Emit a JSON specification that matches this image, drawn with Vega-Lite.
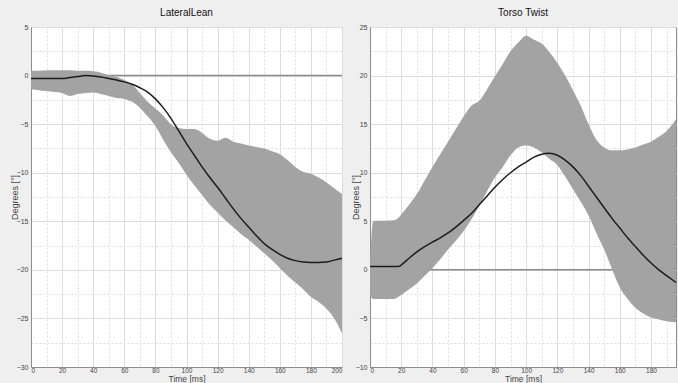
{
  "$schema": "https://vega.github.io/schema/vega-lite/v6.json",
  "padding": {"left": 9, "top": 7, "right": 0, "bottom": 0},
  "spacing": 4,
  "datasets": {
    "lean": [
      {"t": 0, "mean": -0.3, "lo": -1.4, "hi": 0.5},
      {"t": 5, "mean": -0.3, "lo": -1.5, "hi": 0.5},
      {"t": 10, "mean": -0.3, "lo": -1.6, "hi": 0.55},
      {"t": 15, "mean": -0.3, "lo": -1.7, "hi": 0.55},
      {"t": 20, "mean": -0.3, "lo": -1.8, "hi": 0.55},
      {"t": 25, "mean": -0.2, "lo": -2.1, "hi": 0.55},
      {"t": 30, "mean": -0.1, "lo": -1.9, "hi": 0.5},
      {"t": 35, "mean": 0.0, "lo": -1.8, "hi": 0.5},
      {"t": 40, "mean": -0.05, "lo": -1.75, "hi": 0.45},
      {"t": 45, "mean": -0.15, "lo": -1.9, "hi": 0.3},
      {"t": 50, "mean": -0.3, "lo": -2.1, "hi": 0.05},
      {"t": 55, "mean": -0.45, "lo": -2.3, "hi": -0.15},
      {"t": 60, "mean": -0.65, "lo": -2.4, "hi": -0.45},
      {"t": 65, "mean": -0.9, "lo": -2.7, "hi": -0.9},
      {"t": 70, "mean": -1.25, "lo": -3.3, "hi": -1.8},
      {"t": 75, "mean": -1.7, "lo": -4.2, "hi": -2.7},
      {"t": 80, "mean": -2.4, "lo": -5.2, "hi": -3.4},
      {"t": 85, "mean": -3.3, "lo": -6.6, "hi": -4.1},
      {"t": 90, "mean": -4.4, "lo": -7.9, "hi": -5.0},
      {"t": 95, "mean": -5.7, "lo": -9.0, "hi": -5.4},
      {"t": 100, "mean": -7.0, "lo": -10.2, "hi": -5.5},
      {"t": 105, "mean": -8.2, "lo": -11.3, "hi": -5.5},
      {"t": 110, "mean": -9.4, "lo": -12.3, "hi": -5.9},
      {"t": 115, "mean": -10.5, "lo": -13.3, "hi": -6.5},
      {"t": 120, "mean": -11.5, "lo": -14.1, "hi": -6.7},
      {"t": 125, "mean": -12.6, "lo": -14.9, "hi": -6.4},
      {"t": 130, "mean": -13.7, "lo": -15.6, "hi": -6.8},
      {"t": 135, "mean": -14.7, "lo": -16.3, "hi": -7.0},
      {"t": 140, "mean": -15.6, "lo": -16.9, "hi": -7.2},
      {"t": 145, "mean": -16.5, "lo": -17.6, "hi": -7.35},
      {"t": 150, "mean": -17.3, "lo": -18.3, "hi": -7.5},
      {"t": 155, "mean": -17.9, "lo": -19.0, "hi": -7.8},
      {"t": 160, "mean": -18.4, "lo": -19.8, "hi": -8.1},
      {"t": 165, "mean": -18.8, "lo": -20.6, "hi": -8.7},
      {"t": 170, "mean": -19.05, "lo": -21.3, "hi": -9.4},
      {"t": 175, "mean": -19.2, "lo": -22.0, "hi": -9.9},
      {"t": 180, "mean": -19.25, "lo": -22.8, "hi": -10.1},
      {"t": 185, "mean": -19.25, "lo": -23.3, "hi": -10.5},
      {"t": 190, "mean": -19.2, "lo": -24.0, "hi": -11.0},
      {"t": 195, "mean": -19.0, "lo": -25.0, "hi": -11.6},
      {"t": 200, "mean": -18.8, "lo": -26.5, "hi": -12.2}
    ],
    "twist": [
      {"t": 0, "mean": 0.35, "lo": -2.5, "hi": 0.6},
      {"t": 2, "mean": 0.35, "lo": -3.0, "hi": 5.0},
      {"t": 5, "mean": 0.35, "lo": -3.0, "hi": 5.05},
      {"t": 10, "mean": 0.35, "lo": -3.0, "hi": 5.05},
      {"t": 15, "mean": 0.35, "lo": -3.0, "hi": 5.1},
      {"t": 19, "mean": 0.37, "lo": -2.7, "hi": 5.5},
      {"t": 20, "mean": 0.5, "lo": -2.6, "hi": 5.7},
      {"t": 25, "mean": 1.2, "lo": -2.0, "hi": 6.7},
      {"t": 30, "mean": 1.85, "lo": -1.4, "hi": 7.8},
      {"t": 35, "mean": 2.4, "lo": -0.6, "hi": 9.2},
      {"t": 40, "mean": 2.85, "lo": 0.2, "hi": 10.6},
      {"t": 45, "mean": 3.3, "lo": 1.1, "hi": 11.9},
      {"t": 50, "mean": 3.8, "lo": 2.1, "hi": 13.2},
      {"t": 55, "mean": 4.4, "lo": 3.0, "hi": 14.5},
      {"t": 60, "mean": 5.1, "lo": 4.0, "hi": 15.8},
      {"t": 65, "mean": 5.8, "lo": 5.2, "hi": 16.9},
      {"t": 70, "mean": 6.7, "lo": 6.6, "hi": 17.4},
      {"t": 75, "mean": 7.6, "lo": 8.1, "hi": 18.6},
      {"t": 80, "mean": 8.5, "lo": 9.5, "hi": 19.9},
      {"t": 85, "mean": 9.3, "lo": 10.6, "hi": 21.2},
      {"t": 90, "mean": 10.0, "lo": 11.8, "hi": 22.5},
      {"t": 95, "mean": 10.6, "lo": 12.6, "hi": 23.4},
      {"t": 100, "mean": 11.1, "lo": 12.8, "hi": 24.1},
      {"t": 105, "mean": 11.6, "lo": 12.6, "hi": 23.7},
      {"t": 110, "mean": 11.9, "lo": 12.1, "hi": 23.3},
      {"t": 115, "mean": 12.0, "lo": 11.4, "hi": 22.4},
      {"t": 120, "mean": 11.8, "lo": 10.8, "hi": 21.3},
      {"t": 125, "mean": 11.3, "lo": 9.6, "hi": 20.0},
      {"t": 130, "mean": 10.6, "lo": 8.3, "hi": 18.5},
      {"t": 135, "mean": 9.7, "lo": 7.0, "hi": 16.9},
      {"t": 140, "mean": 8.6, "lo": 5.6, "hi": 15.0},
      {"t": 145, "mean": 7.5, "lo": 3.8, "hi": 13.4},
      {"t": 150, "mean": 6.4, "lo": 2.1, "hi": 12.6},
      {"t": 155, "mean": 5.3, "lo": 0.1, "hi": 12.3},
      {"t": 160, "mean": 4.3, "lo": -1.8, "hi": 12.3},
      {"t": 165, "mean": 3.3, "lo": -3.0, "hi": 12.4},
      {"t": 170, "mean": 2.4, "lo": -3.9, "hi": 12.6},
      {"t": 175, "mean": 1.5, "lo": -4.5, "hi": 12.9},
      {"t": 180, "mean": 0.7, "lo": -4.9, "hi": 13.2},
      {"t": 185, "mean": 0.0, "lo": -5.1, "hi": 13.7},
      {"t": 190, "mean": -0.6, "lo": -5.3, "hi": 14.3},
      {"t": 196, "mean": -1.3, "lo": -5.4, "hi": 15.5}
    ],
    "zero": [{"z": 0}]
  },
  "hconcat": [
    {
      "title": {"text": "LateralLean", "offset": 5},
      "width": 311,
      "height": 340,
      "layer": [
        {
          "data": {"name": "zero"},
          "mark": {"type": "rule", "color": "#8a8a8a", "strokeWidth": 1.5},
          "encoding": {"y": {"field": "z", "type": "quantitative"}}
        },
        {
          "data": {"name": "lean"},
          "mark": {"type": "area", "color": "#a3a3a3", "opacity": 1, "interpolate": "monotone"},
          "encoding": {
            "x": {"field": "t", "type": "quantitative"},
            "y": {"field": "lo", "type": "quantitative"},
            "y2": {"field": "hi"}
          }
        },
        {
          "data": {"name": "lean"},
          "mark": {"type": "line", "color": "#1c1c1c", "strokeWidth": 1.5, "interpolate": "monotone"},
          "encoding": {
            "x": {"field": "t", "type": "quantitative",
              "scale": {"domain": [0, 200], "nice": false, "zero": false},
              "axis": {
                "title": "Time [ms]",
                "tickCount": 100,
                "format": "d",
                "values": [0,10,20,30,40,50,60,70,80,90,100,110,120,130,140,150,160,170,180,190,200],
                "labelExpr": "datum.value % 20 == 0 ? datum.label : ''",
                "labelOverlap": false,
                "labelPadding": 0,
                "labelFontSize": 6.5,
                "gridDash": {"condition": {"test": "datum.value % 20 != 0", "value": [2, 2]}, "value": []},
                "titleFontSize": 8.5,
                "titleY": 16, "titleBaseline": "bottom", "titlePadding": 0
              }
            },
            "y": {"field": "mean", "type": "quantitative",
              "scale": {"domain": [-30, 5], "nice": false, "zero": false},
              "axis": {
                "title": "Degrees [°]",
                "tickCount": 100,
                "format": "d",
                "values": [-30,-27.5,-25,-22.5,-20,-17.5,-15,-12.5,-10,-7.5,-5,-2.5,0,2.5,5],
                "labelExpr": "datum.value % 5 == 0 ? datum.label : ''",
                "labelOverlap": false,
                "gridDash": {"condition": {"test": "datum.value % 5 != 0", "value": [2, 2]}, "value": []},
                "titleX": -12
              }
            }
          }
        }
      ]
    },
    {
      "title": {"text": "Torso Twist", "offset": 5},
      "width": 306,
      "height": 340,
      "layer": [
        {
          "data": {"name": "zero"},
          "mark": {"type": "rule", "color": "#8a8a8a", "strokeWidth": 1.5},
          "encoding": {"y": {"field": "z", "type": "quantitative"}}
        },
        {
          "data": {"name": "twist"},
          "mark": {"type": "area", "color": "#a3a3a3", "opacity": 1, "interpolate": "monotone"},
          "encoding": {
            "x": {"field": "t", "type": "quantitative"},
            "y": {"field": "lo", "type": "quantitative"},
            "y2": {"field": "hi"}
          }
        },
        {
          "data": {"name": "twist"},
          "mark": {"type": "line", "color": "#1c1c1c", "strokeWidth": 1.5, "interpolate": "monotone"},
          "encoding": {
            "x": {"field": "t", "type": "quantitative",
              "scale": {"domain": [0, 196], "nice": false, "zero": false},
              "axis": {
                "title": "Time [ms]",
                "tickCount": 100,
                "format": "d",
                "values": [0,10,20,30,40,50,60,70,80,90,100,110,120,130,140,150,160,170,180,190],
                "labelExpr": "datum.value % 20 == 0 ? datum.label : ''",
                "labelOverlap": false,
                "labelPadding": 0,
                "labelFontSize": 6.5,
                "gridDash": {"condition": {"test": "datum.value % 20 != 0", "value": [2, 2]}, "value": []},
                "titleFontSize": 8.5,
                "titleY": 16, "titleBaseline": "bottom", "titlePadding": 0
              }
            },
            "y": {"field": "mean", "type": "quantitative",
              "scale": {"domain": [-10, 25], "nice": false, "zero": false},
              "axis": {
                "title": "Degrees [°]",
                "tickCount": 100,
                "format": "d",
                "values": [-10,-7.5,-5,-2.5,0,2.5,5,7.5,10,12.5,15,17.5,20,22.5,25],
                "labelExpr": "datum.value % 5 == 0 ? datum.label : ''",
                "labelOverlap": false,
                "gridDash": {"condition": {"test": "datum.value % 5 != 0", "value": [2, 2]}, "value": []},
                "titleX": -10
              }
            }
          }
        }
      ]
    }
  ],
  "config": {
    "background": "#efefef",
    "view": {"fill": "white", "stroke": "#8c8c8c", "strokeWidth": 1},
    "axis": {
      "labelFont": "Liberation Sans", "labelFontSize": 7, "labelColor": "#444",
      "titleFont": "Liberation Sans", "titleFontSize": 9, "titleFontWeight": "normal", "titleColor": "#444",
      "gridColor": "#dcdcdc", "domainColor": "#8c8c8c", "ticks": false, "labelPadding": 3, "labelOverlap": false
    },
    "title": {"font": "Liberation Sans", "fontSize": 10, "fontWeight": "normal", "color": "#111", "anchor": "middle"}
  }
}
